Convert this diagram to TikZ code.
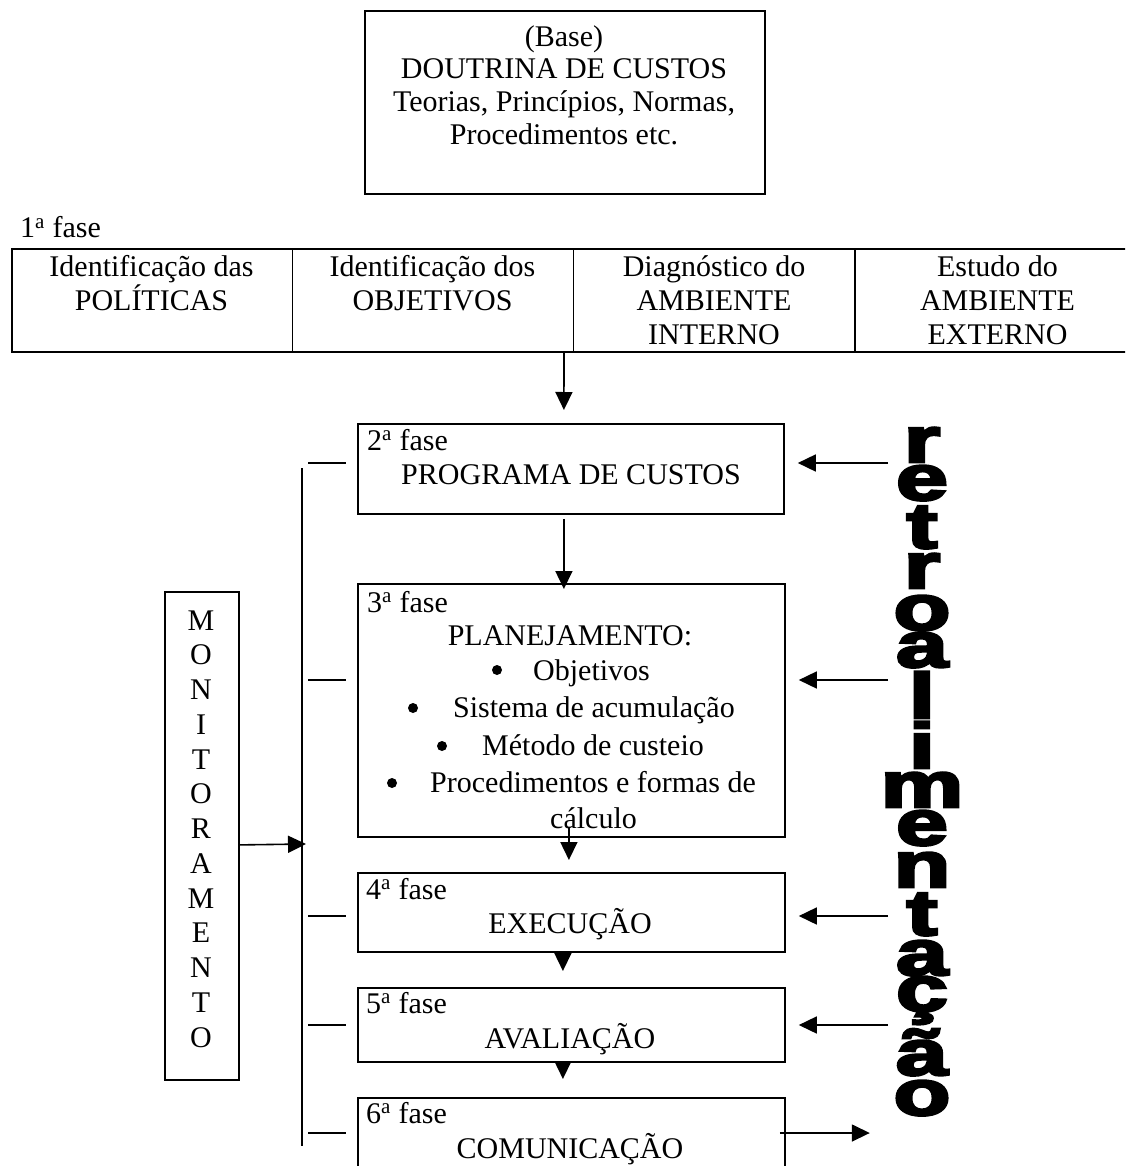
\documentclass[tikz,border=0pt]{standalone}
\usepackage{fontspec}
\setmainfont{Liberation Serif}
\newfontfamily\rfont[BoldFeatures={FakeBold=4}]{Liberation Sans}
\usetikzlibrary{arrows.meta,calc}
\begin{document}
\begin{tikzpicture}[x=1pt,y=-1pt,
  box/.style={draw,line width=1.8pt,inner sep=0pt,anchor=north west},
  txt/.style={inner sep=0pt,font=\fontsize{30}{34}\selectfont},
  arr/.style={line width=1.6pt,-{Triangle[length=18pt,width=17pt]}},
  ln/.style={line width=1.6pt},
  thin/.style={line width=1pt},
  bul/.style={circle,fill,inner sep=0pt,minimum size=10pt},
  rl/.style={inner sep=0pt,anchor=base,font=\fontsize{64}{64}\rfont\bfseries}]
\useasboundingbox (0,0) rectangle (1125,1166);
\clip (0,0) rectangle (1125,1166);

% ---------- top box ----------
\node[box,minimum width=400pt,minimum height=183pt] (base) at (364,10) {};
\node[txt,anchor=base] (bt1) at (564,47) {(Base)};
\node[txt,anchor=base] (bt2) at (564,79) {DOUTRINA DE CUSTOS};
\node[txt,anchor=base] (bt3) at (564,112) {Teorias, Princípios, Normas,};
\node[txt,anchor=base] (bt4) at (564,145) {Procedimentos etc.};

% ---------- 1a fase table ----------
\node[txt,anchor=base west] (f1) at (20,238) {1\textsuperscript{a} fase};
\node[box,line width=2pt,minimum width=1130pt,minimum height=103pt] (tab) at (11,248) {};
\draw[thin] ([xshift=281pt]tab.north west) -- ([xshift=281pt]tab.south west);
\draw[thin] ([xshift=562pt]tab.north west) -- ([xshift=562pt]tab.south west);
\draw[line width=1.6pt] ([xshift=844pt]tab.north west) -- ([xshift=844pt]tab.south west);
\node[txt,anchor=base] (c1a) at (151.5,276) {Identificação das};
\node[txt,anchor=base] (c1b) at (151.5,310) {POLÍTICAS};
\node[txt,anchor=base] (c2a) at (432.5,276) {Identificação dos};
\node[txt,anchor=base] (c2b) at (432.5,310) {OBJETIVOS};
\node[txt,anchor=base] (c3a) at (714,276) {Diagnóstico do};
\node[txt,anchor=base] (c3b) at (714,310) {AMBIENTE};
\node[txt,anchor=base] (c3c) at (714,344) {INTERNO};
\node[txt,anchor=base] (c4a) at (997.5,276) {Estudo do};
\node[txt,anchor=base] (c4b) at (997.5,310) {AMBIENTE};
\node[txt,anchor=base] (c4c) at (997.5,344) {EXTERNO};

% ---------- phase boxes ----------
\node[box,minimum width=426pt,minimum height=90pt] (b2) at (357,423) {};
\node[txt,anchor=base west] (b2a) at (367,450) {2\textsuperscript{a} fase};
\node[txt,anchor=base] (b2b) at (571,484) {PROGRAMA DE CUSTOS};

\node[box,minimum width=427pt,minimum height=253pt] (b3) at (357,583) {};
\node[txt,anchor=base west] (b3a) at (367,612) {3\textsuperscript{a} fase};
\node[txt,anchor=base] (b3b) at (570,645) {PLANEJAMENTO:};
\node[bul] (u1) at (497,670) {};
\node[txt,anchor=base west] (b3c) at (533,680) {Objetivos};
\node[bul] (u2) at (413,708) {};
\node[txt,anchor=base west] (b3d) at (453,717) {Sistema de acumulação};
\node[bul] (u3) at (442,746) {};
\node[txt,anchor=base west] (b3e) at (482,755) {Método de custeio};
\node[bul] (u4) at (392,783) {};
\node[txt,anchor=base west] (b3f) at (430,792) {Procedimentos e formas de};
\node[txt,anchor=base west] (b3g) at (550,828) {cálculo};

\node[box,minimum width=427pt,minimum height=79pt] (b4) at (357,872) {};
\node[txt,anchor=base west] (b4a) at (366,899) {4\textsuperscript{a} fase};
\node[txt,anchor=base] (b4b) at (570,933) {EXECUÇÃO};

\node[box,minimum width=427pt,minimum height=74pt] (b5) at (357,987) {};
\node[txt,anchor=base west] (b5a) at (366,1013) {5\textsuperscript{a} fase};
\node[txt,anchor=base] (b5b) at (570,1048) {AVALIAÇÃO};

\node[box,minimum width=427pt,minimum height=90pt] (b6) at (357,1097) {};
\node[txt,anchor=base west] (b6a) at (366,1123) {6\textsuperscript{a} fase};
\node[txt,anchor=base] (b6b) at (570,1158) {COMUNICAÇÃO};

% ---------- vertical flow arrows ----------
\draw[arr] ([xshift=-13pt]tab.south) -- ([xshift=-7pt,yshift=13pt]b2.north);
\draw[arr] ([xshift=-7pt,yshift=-4pt]b2.south) -- ([xshift=-7.5pt,yshift=-6pt]b3.north);
\draw[arr] ([xshift=-2.5pt,yshift=11pt]b3.south) -- ([xshift=-2.5pt,yshift=12pt]b4.north);
\draw[arr] ([xshift=-8.5pt]b4.south) -- ([xshift=-8.5pt,yshift=16pt]b5.north);
\draw[arr] ([xshift=-8.5pt]b5.south) -- ([xshift=-8.5pt,yshift=18pt]b6.north);

% ---------- monitoramento ----------
\node[box,minimum width=74pt,minimum height=488pt] (mon) at (164,591) {};
\foreach \l [count=\i from 0] in {M,O,N,I,T,O,R,A,M,E,N,T,O}
  \node[txt,anchor=base] (m\i) at (201,630+34.75*\i) {\l};
\coordinate (vt) at (302,468);
\coordinate (vb) at (302,1146);
\draw[ln] (vt) -- (vb);
\draw[arr] ([yshift=-9pt]mon.east) -- ([xshift=4pt]vt |- 0,844);

% level coordinates
\coordinate (y2) at (0,463);
\coordinate (y3) at (0,680);
\coordinate (y4) at (0,916);
\coordinate (y5) at (0,1025);
\coordinate (y6) at (0,1133);
\coordinate (rx) at (888,0);

% ticks from the bracket line to the boxes
\foreach \b/\y in {b2/y2,b3/y3,b4/y4,b5/y5,b6/y6}
  \draw[ln] ([xshift=6pt]vt |- \y) -- ([xshift=-11pt]\b.west |- \y);

% retroalimentacao arrows
\foreach \b/\y in {b2/y2,b3/y3,b4/y4,b5/y5}
  \draw[arr] (rx |- \y) -- ([xshift=13pt]\b.east |- \y);
\draw[arr] ([xshift=-6pt]b6.east |- y6) -- ([xshift=84pt]b6.east |- y6);

% ---------- retroalimentacao word ----------
\foreach \l/\yy [count=\i] in {r/462,e/500,t/548,r/588,o/630,a/667,l/718,i/768,m/807,e/845,n/887,t/935,a/975,ç/1011,ã/1075,o/1115}
  \node[rl] (r\i) at (922,\yy) {\scalebox{1.45}[1]{\l}};
\end{tikzpicture}
\end{document}
